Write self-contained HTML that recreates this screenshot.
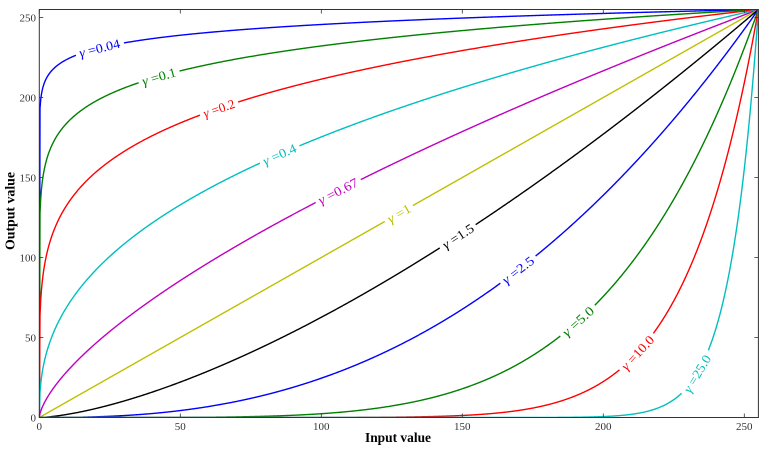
<!DOCTYPE html>
<html><head><meta charset="utf-8"><style>
html,body{margin:0;padding:0;background:#fff;}
svg{display:block;}
text{font-family:"Liberation Serif",serif;}
</style></head><body>
<svg id="s" width="769" height="454" viewBox="0 0 769 454" xmlns="http://www.w3.org/2000/svg">
<defs><clipPath id="cp"><rect x="39.3" y="9.5" width="719.1" height="408"/></clipPath></defs>
<rect x="0" y="0" width="769" height="454" fill="#fff"/>
<g id="curves" clip-path="url(#cp)"></g>
<g id="labels"></g>
<g id="axes"></g>
<text x="398" y="442" text-anchor="middle" font-size="14" font-weight="bold" fill="#000" textLength="66" lengthAdjust="spacingAndGlyphs">Input value</text>
<text x="0" y="0" transform="translate(14.5,211) rotate(-90)" text-anchor="middle" font-size="14" font-weight="bold" fill="#000" textLength="78" lengthAdjust="spacingAndGlyphs">Output value</text>
</svg>
<script>
(function(){
var NS="http://www.w3.org/2000/svg";
var X=function(v){return 39.3+v*2.82;}, Y=function(v){return 417.5-v*1.6;};
var series=[
 [0.04,'#0000ff',99.5,48.7,'0.04'],
 [0.1,'#008000',159,41.8,'0.1'],
 [0.2,'#ff0000',219,39.7,'0.2'],
 [0.4,'#00bfbf',279.5,42.3,'0.4'],
 [0.67,'#bf00bf',338,50,'0.67'],
 [1,'#bfbf00',399,32,'1'],
 [1.5,'#000000',458,41.8,'1.5'],
 [2.5,'#0000ff',518,43.7,'2.5'],
 [5.0,'#008000',578,44.8,'5.0'],
 [10.0,'#ff0000',637.5,49,'10.0'],
 [25.0,'#00bfbf',697,48.6,'25.0']
];
var cg=document.getElementById('curves'), lg=document.getElementById('labels'), ag=document.getElementById('axes');
series.forEach(function(s){
  var g=s[0], col=s[1], px=s[2], gap=s[3], lab=s[4];
  var f=function(v){v=Math.max(0,Math.min(255,v));return 255*Math.pow(v/255,g);};
  var vc=(px-39.3)/2.82, cx=px, cy=Y(f(vc));
  var h=0.5;
  var dx=X(vc+h)-X(vc-h), dy=Y(f(vc+h))-Y(f(vc-h));
  var ang=Math.atan2(dy,dx)*180/Math.PI;
  var segs=[], cur=[];
  for(var i=0;i<=1020;i++){
    var v=i*0.25, x=X(v), y=Y(f(v));
    var d=Math.hypot(x-cx,y-cy);
    if(d<gap/2){ if(cur.length){segs.push(cur);cur=[];} }
    else cur.push(x.toFixed(2)+','+y.toFixed(2));
  }
  if(cur.length)segs.push(cur);
  var dstr=segs.map(function(sg){return 'M'+sg.join('L');}).join('');
  var p=document.createElementNS(NS,'path');
  p.setAttribute('d',dstr);p.setAttribute('fill','none');p.setAttribute('stroke',col);
  p.setAttribute('stroke-width','1.4');p.setAttribute('stroke-linejoin','round');
  cg.appendChild(p);
  var t=document.createElementNS(NS,'text');
  t.setAttribute('x',cx);t.setAttribute('y',cy);t.setAttribute('dy','0.35em');
  t.setAttribute('text-anchor','middle');t.setAttribute('font-size','13');
  t.setAttribute('fill',col);
  t.setAttribute('transform','rotate('+ang.toFixed(2)+' '+cx.toFixed(2)+' '+cy.toFixed(2)+')');
  t.setAttribute('textLength',(gap-7).toFixed(1));t.setAttribute('lengthAdjust','spacingAndGlyphs');
  var ts=document.createElementNS(NS,'tspan');ts.setAttribute('font-style','italic');ts.textContent='\u03b3';
  t.appendChild(ts);
  t.appendChild(document.createTextNode(' =' + lab));
  lg.appendChild(t);
});
// axes frame
var r=document.createElementNS(NS,'rect');
r.setAttribute('x',39.3);r.setAttribute('y',9.5);r.setAttribute('width',719.1);r.setAttribute('height',408);
r.setAttribute('fill','none');r.setAttribute('stroke','#333');r.setAttribute('stroke-width','1');
ag.appendChild(r);
function line(x1,y1,x2,y2){var l=document.createElementNS(NS,'line');l.setAttribute('x1',x1);l.setAttribute('y1',y1);l.setAttribute('x2',x2);l.setAttribute('y2',y2);l.setAttribute('stroke','#333');l.setAttribute('stroke-width','0.8');ag.appendChild(l);}
function txt(x,y,s,anchor){var t=document.createElementNS(NS,'text');t.setAttribute('x',x);t.setAttribute('y',y);t.setAttribute('text-anchor',anchor);t.setAttribute('font-size','11');t.setAttribute('fill','#333');t.textContent=s;ag.appendChild(t);}
for(var v=0;v<=250;v+=50){
  var x=X(v);
  line(x,417.5,x,413.5);line(x,9.5,x,13.5);
  txt(x,430,String(v),'middle');
  var y=Y(v);
  line(39.3,y,43.3,y);line(758.4,y,754.4,y);
  txt(36,y+3.8,String(v),'end');
}
})();
</script>
</body></html>
